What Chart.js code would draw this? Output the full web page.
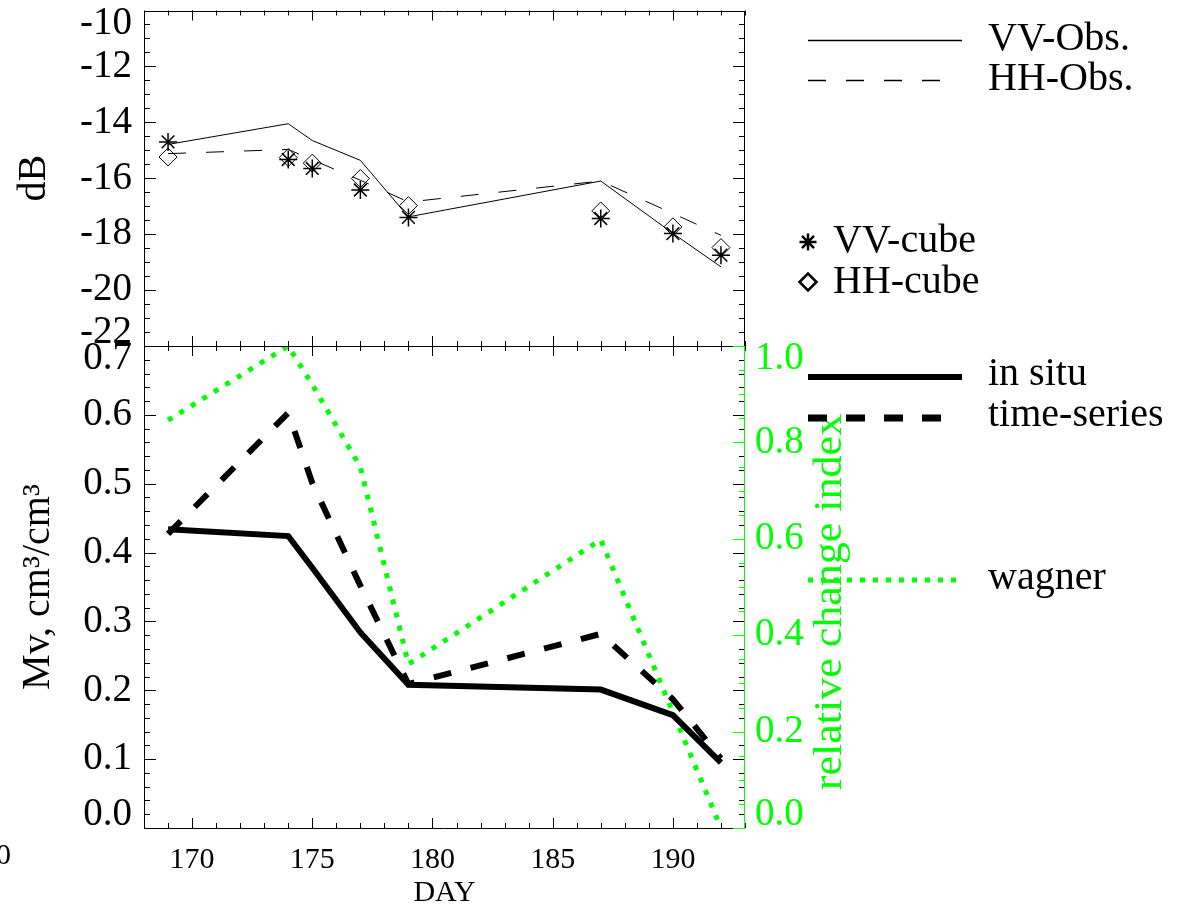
<!DOCTYPE html>
<html lang="en">
<head>
<meta charset="UTF-8">
<title>Backscatter and soil moisture</title>
<style>
  html, body { margin: 0; padding: 0; background: #fff; }
  #wrap { position: relative; width: 1184px; height: 908px; }
  canvas { position: absolute; left: 0; top: 0; }
</style>
</head>
<body>
<div id="wrap">
  <canvas id="topChart" width="1184" height="908"></canvas>
  <canvas id="botChart" width="1184" height="908"></canvas>
</div>
<script src="https://cdn.jsdelivr.net/npm/chart.js@4.4.1/dist/chart.umd.min.js"></script>
<script>
// day of year of each acquisition
const days = [169, 174, 175, 177, 179, 187, 190, 192]
const dayTicks = [170, 175, 180, 185, 190]

// top panel, dB
const vvObs  = [-14.79, -14.05, -14.65, -15.36, -17.38, -16.10, -17.97, -19.17]
const hhObs  = [-15.12, -14.97, -15.34, -16.07, -16.85, -16.10, -17.26, -18.04]
const vvCube = [-14.70, -15.33, -15.65, -16.42, -17.40, -17.44, -17.98, -18.75]
const hhCube = [-15.24, -15.26, -15.46, -16.01, -16.98, -17.17, -17.74, -18.48]

// bottom panel, soil moisture and change index
const inSitu     = [0.434, 0.424, 0.378, 0.284, 0.208, 0.201, 0.164, 0.095]
const timeSeries = [0.427, 0.603, 0.501, 0.352, 0.209, 0.282, 0.187, 0.101]
const wagner     = [0.846, 1.000, 0.920, 0.749, 0.340, 0.598, 0.240, 0.000]

const SERIF = '"Liberation Serif", "DejaVu Serif", serif'
const GREEN = '#00ff00'

const pts = vals => vals.map((v, i) => ({ x: days[i], y: v }))

// IDL style: labels at the ends of an axis are pulled inwards
const edgeLabel = fmt => function (value, index, ticks) {
  const s = fmt(value)
  if (index === ticks.length - 1) return ['', s]
  if (index === 0) return [s, '']
  return s
}

// keep the plot box where it is, labels may hang over the edges
const fixWidth = w => s => { s.width = w; s.paddingTop = 0; s.paddingBottom = 0 }

// inward tick marks along one edge of the plot area
function marks(chart, axisId, edge, step, len, color) {
  const s = chart.scales[axisId], a = chart.chartArea, ctx = chart.ctx
  ctx.save()
  ctx.strokeStyle = color
  ctx.lineWidth = 1
  ctx.beginPath()
  for (let k = Math.ceil(s.min / step - 1e-9); k * step <= s.max + 1e-9; k++) {
    const p = Math.round(s.getPixelForValue(k * step)) + 0.5
    if (edge === 'left')   { ctx.moveTo(a.left, p);   ctx.lineTo(a.left + len, p) }
    if (edge === 'right')  { ctx.moveTo(a.right, p);  ctx.lineTo(a.right - len, p) }
    if (edge === 'top')    { ctx.moveTo(p, a.top);    ctx.lineTo(p, a.top + len) }
    if (edge === 'bottom') { ctx.moveTo(p, a.bottom); ctx.lineTo(p, a.bottom - len) }
  }
  ctx.stroke()
  ctx.restore()
}

function edgeLine(ctx, x1, y1, x2, y2, color) {
  ctx.save()
  ctx.strokeStyle = color
  ctx.lineWidth = 1
  ctx.beginPath()
  ctx.moveTo(x1, y1)
  ctx.lineTo(x2, y2)
  ctx.stroke()
  ctx.restore()
}

function legendLine(ctx, y, x2, width, dash, color) {
  ctx.save()
  ctx.strokeStyle = color
  ctx.lineWidth = width
  ctx.setLineDash(dash)
  ctx.beginPath()
  ctx.moveTo(808, y)
  ctx.lineTo(x2, y)
  ctx.stroke()
  ctx.restore()
}

function legendText(ctx, text, x, y) {
  ctx.save()
  ctx.fillStyle = '#000'
  ctx.font = '40px ' + SERIF
  ctx.textBaseline = 'alphabetic'
  ctx.textAlign = 'left'
  ctx.fillText(text, x, y)
  ctx.restore()
}

const topDecor = {
  id: 'topDecor',
  afterDraw(chart) {
    const ctx = chart.ctx, a = chart.chartArea
    const L = Math.round(a.left) + 0.5, R = Math.round(a.right) - 0.5
    const T = Math.round(a.top) + 0.5, B = Math.round(a.bottom) + 0.5
    edgeLine(ctx, L, T, R, T, '#000')
    edgeLine(ctx, L, B, R, B, '#000')
    edgeLine(ctx, L, T, L, B, '#000')
    edgeLine(ctx, R, T, R, B, '#000')
    for (const e of ['left', 'right']) {
      marks(chart, 'y', e, 2, 12, '#000')
      marks(chart, 'y', e, 0.5, 6, '#000')
    }
    for (const e of ['top', 'bottom']) {
      marks(chart, 'x', e, 5, 10, '#000')
      marks(chart, 'x', e, 1, 5, '#000')
    }

    legendLine(ctx, 40.5, 962, 1.5, [], '#000')
    legendText(ctx, 'VV-Obs.', 988, 50)
    legendLine(ctx, 80.5, 945, 1.5, [18, 20], '#000')
    legendText(ctx, 'HH-Obs.', 988, 90)

    ctx.save()
    ctx.strokeStyle = '#000'
    ctx.lineWidth = 2.5
    ctx.beginPath()
    const cx = 808, cy = 242, r = 8.5
    for (let i = 0; i < 4; i++) {
      const t = i * Math.PI / 4
      ctx.moveTo(cx - r * Math.cos(t), cy - r * Math.sin(t))
      ctx.lineTo(cx + r * Math.cos(t), cy + r * Math.sin(t))
    }
    ctx.stroke()
    ctx.beginPath()
    const dy = 282
    ctx.moveTo(cx - r, dy); ctx.lineTo(cx, dy - r); ctx.lineTo(cx + r, dy); ctx.lineTo(cx, dy + r)
    ctx.closePath()
    ctx.stroke()
    ctx.restore()
    legendText(ctx, 'VV-cube', 833, 252)
    legendText(ctx, 'HH-cube', 833, 293)
  }
}

const botDecor = {
  id: 'botDecor',
  afterDraw(chart) {
    const ctx = chart.ctx, a = chart.chartArea
    const L = Math.round(a.left) + 0.5, R = Math.round(a.right) - 0.5
    const T = Math.round(a.top) + 0.5, B = Math.round(a.bottom) + 0.5
    edgeLine(ctx, L, T, R, T, '#000')
    edgeLine(ctx, L, B, R, B, '#000')
    edgeLine(ctx, L, T, L, B, '#000')
    for (const e of ['left', 'right']) {
      marks(chart, 'y', e, 0.1, 12, '#000')
      marks(chart, 'y', e, 0.02, 6, '#000')
    }
    marks(chart, 'y2', 'right', 0.2, 12, GREEN)
    marks(chart, 'y2', 'right', 0.05, 6, GREEN)
    edgeLine(ctx, R, T, R, B, GREEN)
    for (const e of ['top', 'bottom']) {
      marks(chart, 'x', e, 5, 10, '#000')
      marks(chart, 'x', e, 1, 5, '#000')
    }

    // right axis title, reading upwards like the left one
    ctx.save()
    ctx.translate(830, 602)
    ctx.rotate(-Math.PI / 2)
    ctx.scale(1.1, 1)
    ctx.fillStyle = GREEN
    ctx.font = '40px ' + SERIF
    ctx.textAlign = 'center'
    ctx.textBaseline = 'middle'
    ctx.fillText('relative change index', 0, 0)
    ctx.restore()

    legendLine(ctx, 377, 962, 6, [], '#000')
    legendText(ctx, 'in situ', 988, 385)
    legendLine(ctx, 418, 943, 7, [19, 19], '#000')
    legendText(ctx, 'time-series', 988, 426)
    legendLine(ctx, 580, 960, 5, [5, 8], GREEN)
    legendText(ctx, 'wagner', 988, 589)

    ctx.save()
    ctx.fillStyle = '#000'
    ctx.font = '30px ' + SERIF
    ctx.textAlign = 'right'
    ctx.textBaseline = 'middle'
    ctx.fillText('0', 11, 856)
    ctx.restore()
  }
}

const noDecor = { legend: { display: false }, tooltip: { enabled: false } }

new Chart(document.getElementById('topChart'), {
  type: 'line',
  data: {
    datasets: [
      { label: 'VV-Obs.', data: pts(vvObs), borderColor: '#000', borderWidth: 1, pointRadius: 0 },
      { label: 'HH-Obs.', data: pts(hhObs), borderColor: '#000', borderWidth: 1, borderDash: [18, 20], pointRadius: 0 },
      { label: 'VV-cube', data: pts(vvCube), showLine: false, pointStyle: 'star', pointRadius: 9,
        pointBorderWidth: 1.5, pointBorderColor: '#000', pointBackgroundColor: '#000' },
      { label: 'HH-cube', data: pts(hhCube), showLine: false, pointStyle: 'rectRot', pointRadius: 9,
        pointBorderWidth: 1, pointBorderColor: '#000', pointBackgroundColor: 'rgba(0,0,0,0)' }
    ]
  },
  options: {
    responsive: false,
    animation: false,
    events: [],
    layout: { padding: { top: 10, right: 439, bottom: 562, left: 0 } },
    plugins: noDecor,
    scales: {
      x: { type: 'linear', min: 168, max: 193, display: false },
      y: {
        min: -22, max: -10,
        grid: { display: false, drawTicks: false },
        border: { display: false },
        ticks: {
          stepSize: 2, autoSkip: false, padding: 12, color: '#000',
          font: { family: SERIF, size: 39, lineHeight: '26px' },
          callback: edgeLabel(v => String(v))
        },
        title: { display: true, text: 'dB', color: '#000',
          font: { family: SERIF, size: 40, lineHeight: 1 }, padding: { top: 14, bottom: 0 } },
        afterFit: fixWidth(144)
      }
    }
  },
  plugins: [topDecor]
})

new Chart(document.getElementById('botChart'), {
  type: 'line',
  data: {
    datasets: [
      { label: 'in situ', data: pts(inSitu), yAxisID: 'y', borderColor: '#000', borderWidth: 6, pointRadius: 0 },
      { label: 'time-series', data: pts(timeSeries), yAxisID: 'y', borderColor: '#000', borderWidth: 6,
        borderDash: [18, 20], pointRadius: 0 },
      { label: 'wagner', data: pts(wagner), yAxisID: 'y2', borderColor: GREEN, borderWidth: 5,
        borderDash: [5, 8.5], pointRadius: 0 }
    ]
  },
  options: {
    responsive: false,
    animation: false,
    events: [],
    layout: { padding: { top: 346, right: 0, bottom: 0, left: 0 } },
    plugins: noDecor,
    scales: {
      x: {
        type: 'linear', min: 168, max: 193,
        grid: { display: false, drawTicks: false },
        border: { display: false },
        afterBuildTicks: s => { s.ticks = dayTicks.map(v => ({ value: v })) },
        ticks: { autoSkip: false, maxRotation: 0, padding: 14, color: '#000',
          font: { family: SERIF, size: 30 } },
        title: { display: true, text: 'DAY', color: '#000',
          font: { family: SERIF, size: 30, lineHeight: 1 }, padding: 0 },
        afterFit: s => { s.height = 80 }
      },
      y: {
        position: 'left', min: 0, max: 0.7,
        grid: { display: false, drawTicks: false },
        border: { display: false },
        ticks: {
          stepSize: 0.1, autoSkip: false, padding: 12, color: '#000',
          font: { family: SERIF, size: 39, lineHeight: '26px' },
          callback: edgeLabel(v => v.toFixed(1))
        },
        title: { display: true, text: 'Mv, cm³/cm³', color: '#000',
          font: { family: SERIF, size: 40, lineHeight: 1 }, padding: { top: 18, bottom: 0 } },
        afterFit: fixWidth(144)
      },
      y2: {
        position: 'right', min: 0, max: 1,
        grid: { display: false, drawTicks: false },
        border: { display: false },
        ticks: {
          stepSize: 0.2, autoSkip: false, padding: 10, color: GREEN,
          font: { family: SERIF, size: 39, lineHeight: '26px' },
          callback: edgeLabel(v => v.toFixed(1))
        },
        afterFit: fixWidth(439)
      }
    }
  },
  plugins: [botDecor]
})
</script>
</body>
</html>
